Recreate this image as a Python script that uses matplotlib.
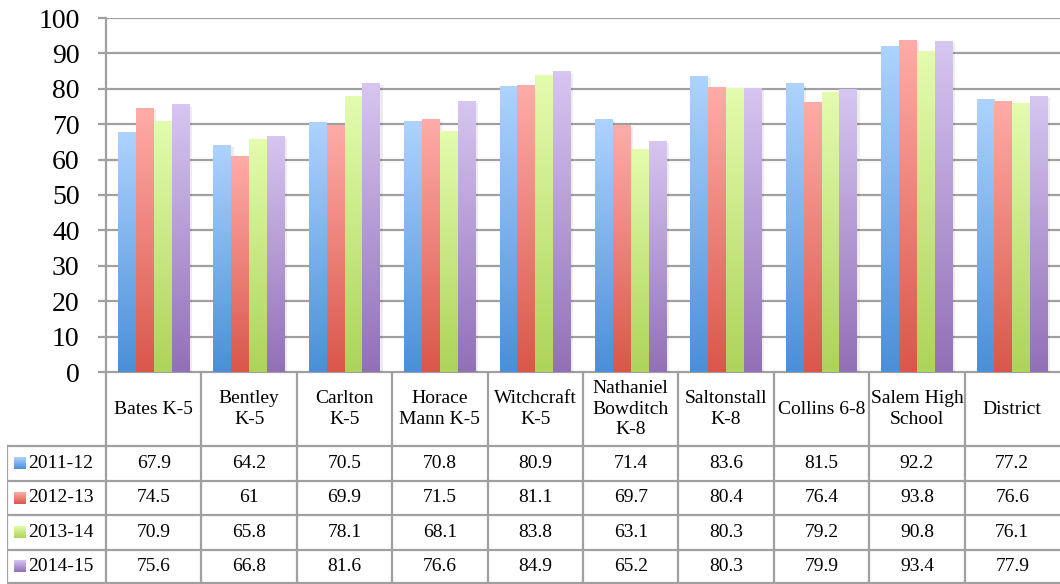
import numpy as np
import matplotlib
matplotlib.use('Agg')
import matplotlib.pyplot as plt
from matplotlib.colors import LinearSegmentedColormap

plt.rcParams['font.family'] = ['Liberation Serif', 'DejaVu Serif']

# ---- data ----
schools = ['Bates K-5', 'Bentley\nK-5', 'Carlton\nK-5', 'Horace\nMann K-5',
           'Witchcraft\nK-5', 'Nathaniel\nBowditch\nK-8', 'Saltonstall\nK-8',
           'Collins 6-8', 'Salem High\nSchool', 'District']
years = ['2011-12', '2012-13', '2013-14', '2014-15']
v2011 = [67.9, 64.2, 70.5, 70.8, 80.9, 71.4, 83.6, 81.5, 92.2, 77.2]
v2012 = [74.5, 61, 69.9, 71.5, 81.1, 69.7, 80.4, 76.4, 93.8, 76.6]
v2013 = [70.9, 65.8, 78.1, 68.1, 83.8, 63.1, 80.3, 79.2, 90.8, 76.1]
v2014 = [75.6, 66.8, 81.6, 76.6, 84.9, 65.2, 80.3, 79.9, 93.4, 77.9]
series = [v2011, v2012, v2013, v2014]
yticks = list(range(0, 101, 10))

# (bottom, top) gradient colours per series
grads = [('#4a8fd8', '#aed3ff'), ('#d9574a', '#ffaca8'),
         ('#aed35a', '#e4fcae'), ('#9270b7', '#d7c6f1')]
GRID = '#a0a0a0'
W, H = 1060, 584
ramp = np.linspace(0, 1, 256).reshape(-1, 1)

fig = plt.figure(figsize=(W / 100, H / 100), dpi=100)

# ---- bar chart ----
ax = fig.add_axes([106 / W, (H - 372) / H, (W - 106) / W, (372 - 18) / H])
n = len(schools)
x = np.arange(n) + 0.5
w = 0.1875
for i, (vals, (bot, top)) in enumerate(zip(series, grads)):
    cmap = LinearSegmentedColormap.from_list(years[i], [bot, top])
    pos = x + (i - 1.5) * w
    # soft shadow
    ax.bar(pos + 0.025, vals, w, bottom=-0.6, color='k', alpha=0.07, lw=0, zorder=2)
    bars = ax.bar(pos, vals, w, color=top, lw=0, zorder=3)
    for b in bars:
        im = ax.imshow(ramp, cmap=cmap, origin='lower', aspect='auto', zorder=3,
                       extent=(b.get_x(), b.get_x() + b.get_width(), 0, b.get_height()))
        im.set_clip_path(b)

ax.set_xlim(0, n)
ax.set_ylim(0, 100)
ax.set_yticks(yticks)
ax.set_xticks([])
ax.yaxis.grid(True, color=GRID, lw=1.6)
ax.set_axisbelow(True)
for s in ['top', 'right', 'bottom']:
    ax.spines[s].set_visible(False)
ax.spines['left'].set_color(GRID)
ax.spines['left'].set_linewidth(1.6)
ax.tick_params(axis='y', length=6, width=1.6, color=GRID, labelsize=20, pad=13)

# ---- data table ----
tab = fig.add_axes([7 / W, 0, (W - 7) / W, 212 / H])
left = -99 / 95.4
rows_y = [0, 74, 108.5, 143, 177.5, 211]
for k, y in enumerate(rows_y):
    tab.plot([0 if k == 0 else left, n], [y, y], color=GRID, lw=1.6, solid_capstyle='butt')
tab.plot([left, left], [rows_y[1], rows_y[-1]], color=GRID, lw=1.6)
for k in range(n):
    tab.plot([k, k], [0, rows_y[-1]], color=GRID, lw=1.6)
    tab.text(k + 0.5, 37, schools[k], ha='center', va='center', fontsize=14, linespacing=1.25)

for i, (vals, (bot, top)) in enumerate(zip(series, grads)):
    yc = (rows_y[i + 1] + rows_y[i + 2]) / 2
    cmap = LinearSegmentedColormap.from_list(years[i] + 'k', [bot, top])
    tab.imshow(ramp, cmap=cmap, origin='lower', aspect='auto',
               extent=(-92 / 95.4, -80 / 95.4, yc + 6, yc - 6))
    tab.text(-78 / 95.4, yc, years[i], ha='left', va='center', fontsize=14)
    for k, v in enumerate(vals):
        tab.text(k + 0.5, yc, f'{v:g}', ha='center', va='center', fontsize=14)

tab.set_xlim(left, n)
tab.set_ylim(212, 0)
tab.axis('off')

fig.savefig('out.png', dpi=100)
